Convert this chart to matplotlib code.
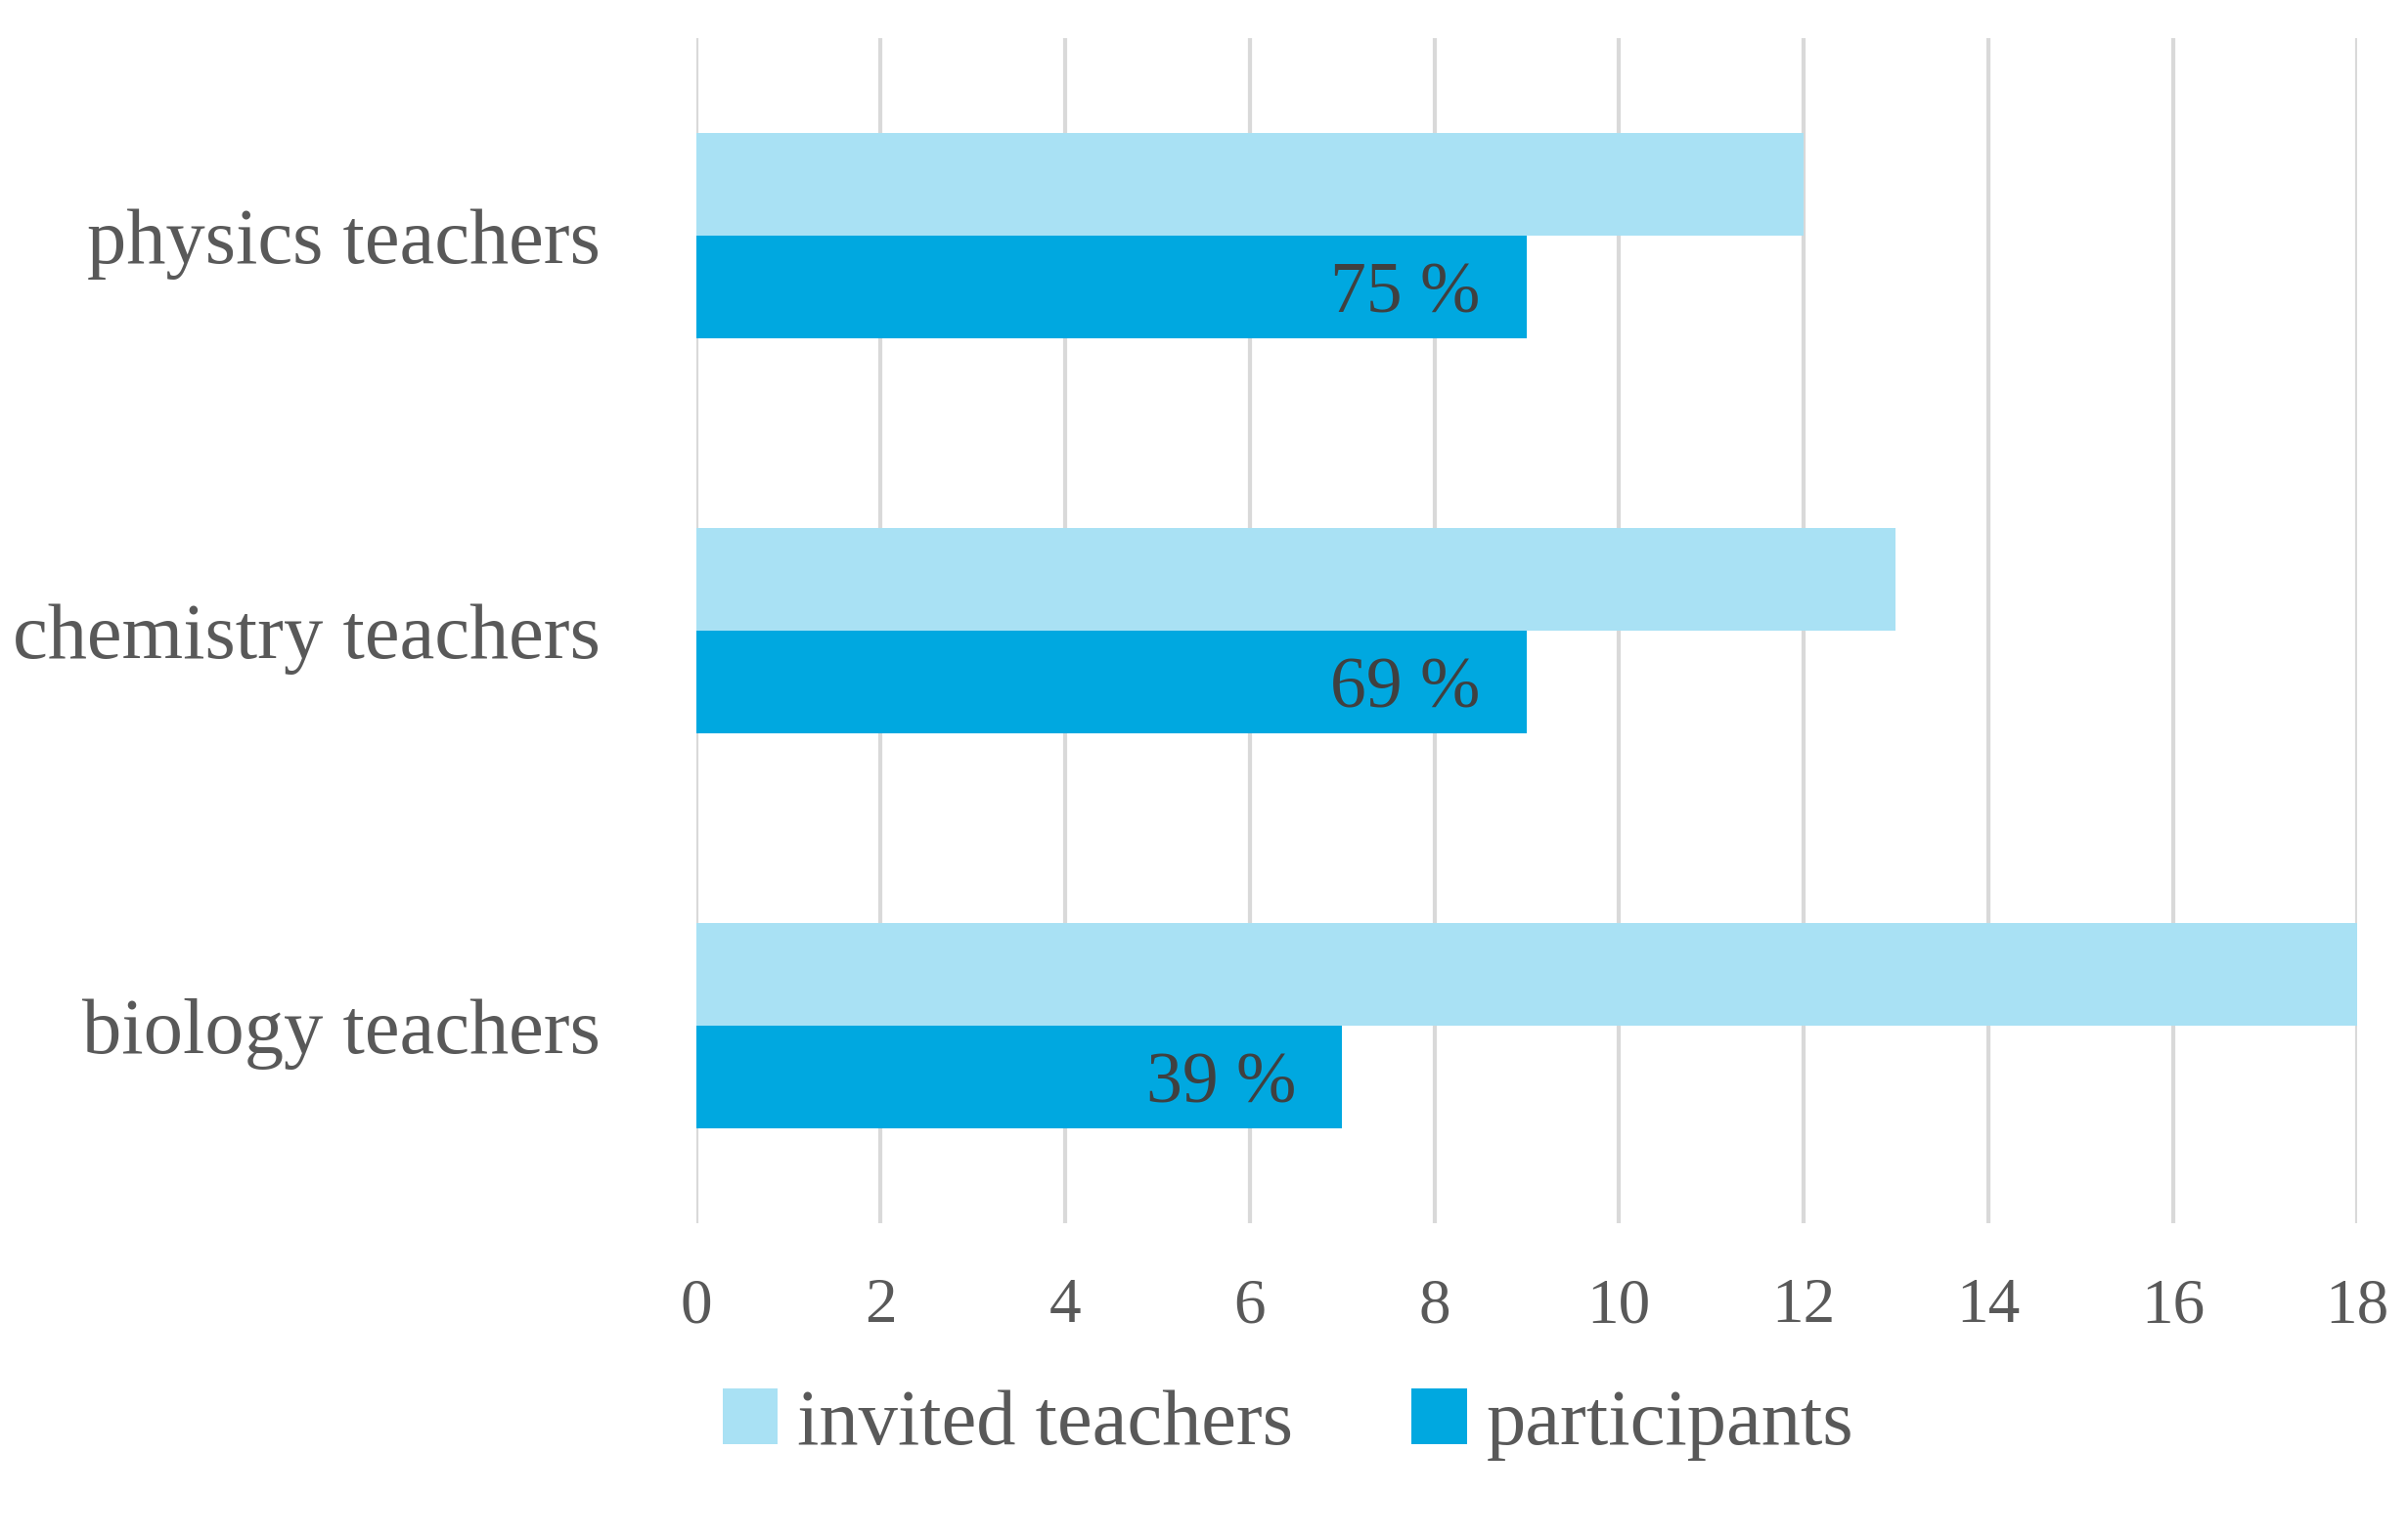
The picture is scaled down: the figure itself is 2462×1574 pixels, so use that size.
import matplotlib
matplotlib.use('Agg')
import matplotlib.pyplot as plt
import numpy as np

categories = ["biology teachers", "chemistry teachers", "physics teachers"]
invited = [18, 13, 12]
participants = [7, 9, 9]
pct_labels = ["39 %", "69 %", "75 %"]

plt.rcParams['font.family'] = ['Liberation Serif', 'DejaVu Serif']

fig = plt.figure(figsize=(24.62, 15.74), dpi=100)
ax = fig.add_axes([0.289, 0.205, 0.69, 0.77])

y = np.arange(len(categories))
h = 0.26
ax.barh(y + h / 2, invited, height=h, color='#A9E1F4', label='invited teachers', zorder=2)
bars = ax.barh(y - h / 2, participants, height=h, color='#00A8E0', label='participants', zorder=2)
for b, t in zip(bars, pct_labels):
    ax.text(b.get_width() - 0.5, b.get_y() + b.get_height() / 2 - 0.02, t,
            ha='right', va='center', fontsize=53, color='#404040', zorder=3)

ax.set_xlim(0, 18)
ax.set_xticks(range(0, 19, 2))
ax.set_ylim(-0.5, 2.5)
ax.set_yticks(y)
ax.set_yticklabels(categories)
ax.grid(axis='x', color='#D9D9D9', linewidth=3, zorder=0)
for s in ax.spines.values():
    s.set_visible(False)
ax.tick_params(axis='both', length=0, colors='#595959')
ax.tick_params(axis='x', pad=40, labelsize=47)
ax.tick_params(axis='y', pad=70, labelsize=58)

fig.legend(loc='lower center', bbox_to_anchor=(0.535, 0.005), ncol=2, frameon=False,
           fontsize=58, labelcolor='#595959', handlelength=0.7, handleheight=0.7,
           handletextpad=0.25, columnspacing=1.5)

fig.savefig('out.png', dpi=100)
